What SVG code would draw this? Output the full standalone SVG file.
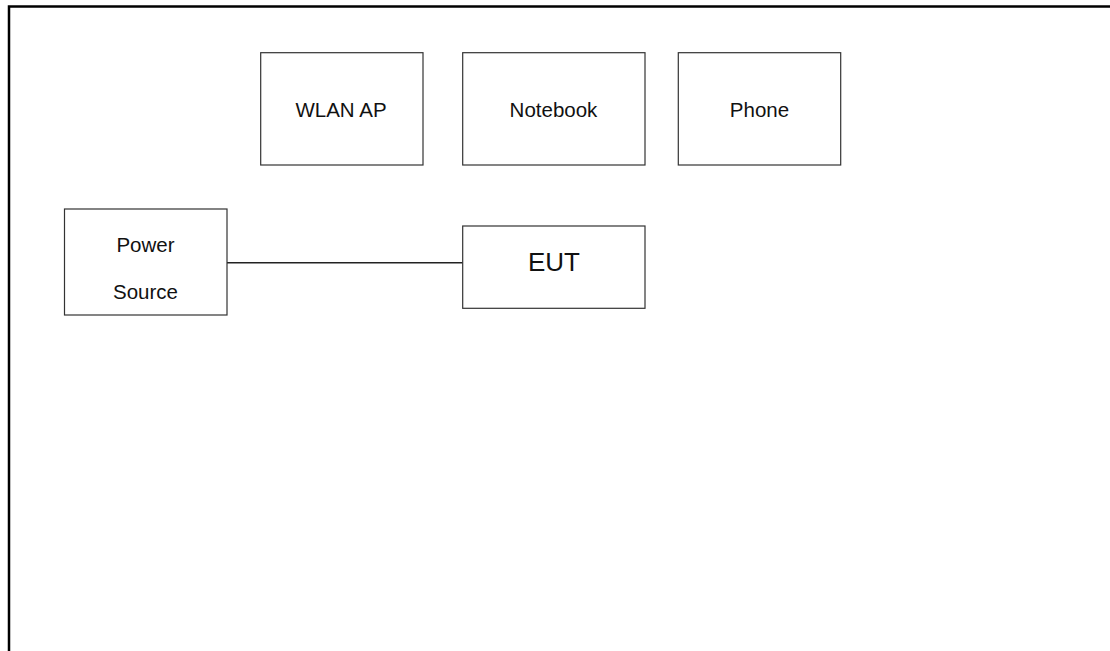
<svg xmlns="http://www.w3.org/2000/svg" width="1110" height="651" viewBox="0 0 1110 651">
<style>
.box{fill:#fff;stroke:#333;stroke-width:1.2}
.lbl{font-family:"Liberation Sans",Arial,sans-serif;font-size:20.5px;fill:#111;text-anchor:middle}
.big{font-size:26px}
.conn{stroke:#222;stroke-width:1.4;fill:none}
</style>
<rect x="0" y="0" width="1110" height="651" fill="#fff"/>
<path d="M9,651 V6.5 H1110" fill="none" stroke="#000" stroke-width="2.5"/>
<g id="connectors">
<line class="conn" x1="227" y1="262.8" x2="462.7" y2="262.8"/>
</g>
<g id="wlan-ap">
<rect class="box" x="260.7" y="52.7" width="162.3" height="112.3"/>
<text class="lbl" x="341" y="116.5">WLAN AP</text>
</g>
<g id="notebook">
<rect class="box" x="462.7" y="52.7" width="182.3" height="112.3"/>
<text class="lbl" x="553.5" y="116.5">Notebook</text>
</g>
<g id="phone">
<rect class="box" x="678.3" y="52.7" width="162.4" height="112.3"/>
<text class="lbl" x="759.5" y="116.5">Phone</text>
</g>
<g id="power-source">
<rect class="box" x="64.5" y="209" width="162.5" height="106"/>
<text class="lbl" x="145.5" y="251.7">Power</text>
<text class="lbl" x="145.5" y="299">Source</text>
</g>
<g id="eut">
<rect class="box" x="462.7" y="226" width="182.3" height="82.3"/>
<text class="lbl big" x="554" y="270.7">EUT</text>
</g>
</svg>
